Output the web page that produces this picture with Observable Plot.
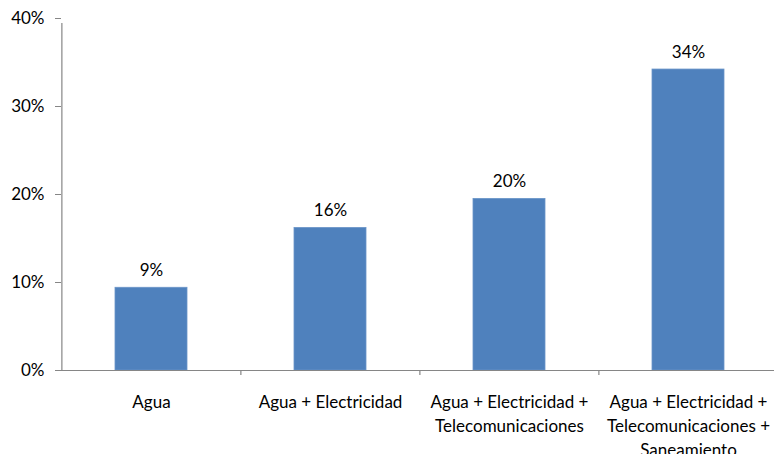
<!DOCTYPE html>
<html>
<head>
<meta charset="utf-8">
<script src="https://cdn.jsdelivr.net/npm/d3@7"></script>
<script src="https://cdn.jsdelivr.net/npm/@observablehq/plot@0.6"></script>
<style>
  html, body { margin: 0; padding: 0; background: #fff; }
  svg { display: block; }
</style>
</head>
<body>
<div id="chart"></div>
<script>
const categories = [
  "Agua",
  "Agua + Electricidad",
  "Agua + Electricidad +\nTelecomunicaciones",
  "Agua + Electricidad +\nTelecomunicaciones +\nSaneamiento"
];
const values = [9.4, 16.2, 19.5, 34.2];
const valueLabels = ["9%", "16%", "20%", "34%"];
const yTicks = [0, 10, 20, 30, 40];

const data = categories.map((c, i) => ({ cat: c, value: values[i], label: valueLabels[i] }));

const W = 774, H = 454;
const marginLeft = 61, marginTop = 18, marginBottom = 84;
const xRange = [61, 778];
const bw = (xRange[1] - xRange[0]) / categories.length;
const axisColor = "#868686";
const font = "Lato, 'Open Sans', sans-serif";
const fs = 17;

const chart = Plot.plot({
  width: W,
  height: H,
  marginLeft,
  marginRight: 0,
  marginTop,
  marginBottom,
  style: { fontFamily: font, fontSize: fs + "px", fontWeight: "400", color: "#000", background: "#fff" },
  x: { domain: categories, range: xRange, paddingInner: 0.6, paddingOuter: 0.3, align: 0.5, axis: null },
  y: { domain: [0, 40], axis: null, label: null },
  marks: [
    Plot.barY(data, { x: "cat", y: "value", fill: "#4F81BD", stroke: "#6a95c8", strokeWidth: 0.8 }),
    // y axis line
    Plot.ruleX([categories[0]], { x: d => d, y1: 0, y2: 40, dx: -bw / 2, stroke: axisColor, strokeWidth: 1.2, insetBottom: -5 }),
    // x axis line
    Plot.ruleY([0], { stroke: axisColor, strokeWidth: 1.2 }),
    // category boundary ticks
    Plot.ruleX(categories.slice(1), { x: d => d, y1: 0, y2: 0, dx: -bw / 2, stroke: axisColor, strokeWidth: 1.2, insetBottom: -5 }),
    Plot.axisY({ ticks: yTicks, tickFormat: d => d + "%", label: null, tickSize: 6, tickPadding: 11, stroke: axisColor, fill: "#000", fontSize: fs }),
    Plot.text(data, { x: "cat", y: "value", text: "label", dy: -17, fontSize: fs, fill: "#000" }),
    Plot.text(data, { x: "cat", y: () => 0, text: "cat", lineAnchor: "top", dy: 20, lineHeight: 1.43, fontSize: fs, fill: "#000" })
  ]
});
document.getElementById("chart").appendChild(chart);
</script>
</body>
</html>
